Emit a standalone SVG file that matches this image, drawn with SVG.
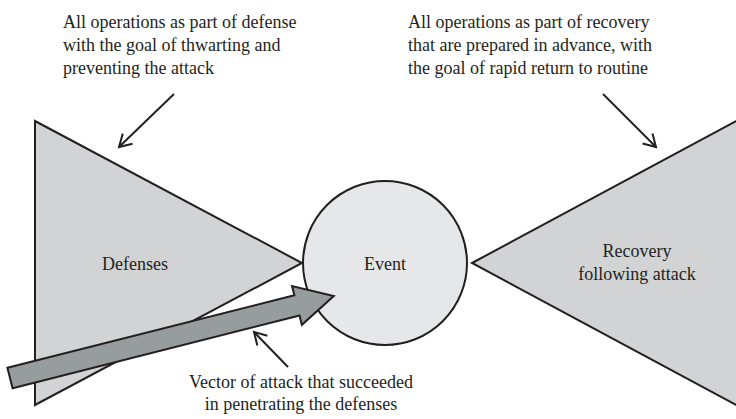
<svg xmlns="http://www.w3.org/2000/svg" width="736" height="419" viewBox="0 0 736 419">
  <style>
    text { font-family: 'Liberation Serif', 'DejaVu Serif', serif; font-size: 18px; fill: #231f20; }
    .shape { stroke: #231f20; stroke-width: 2; stroke-linejoin: miter; }
    .tri { fill: #d1d3d4; }
    .ptr { fill: none; stroke: #231f20; stroke-width: 2; }
    .mid { text-anchor: middle; }
  </style>
  <defs>
    <marker id="open" markerWidth="16" markerHeight="16" refX="13" refY="8" orient="auto" markerUnits="userSpaceOnUse">
      <path d="M1,1 L13,8 L1,15" fill="none" stroke="#231f20" stroke-width="2"/>
    </marker>
  </defs>

  <rect width="736" height="419" fill="#ffffff"/>

  <g id="defenses">
    <polygon class="shape tri" points="35,121 302,263 35,405"/>
    <text class="mid" x="135" y="270">Defenses</text>
  </g>

  <g id="recovery">
    <polygon class="shape tri" points="472,263 742,118 742,408"/>
    <text class="mid" x="637" y="257">Recovery</text>
    <text class="mid" x="637" y="280">following attack</text>
  </g>

  <g id="event">
    <circle class="shape" cx="385" cy="263" r="82" fill="#e6e7e8"/>
    <text class="mid" x="385" y="270">Event</text>
  </g>

  <g id="attack-vector">
    <g transform="translate(10,378) rotate(-14.2)">
      <polygon class="shape" fill="#979c9e" stroke-width="1.5" points="0,-10.5 296,-10.5 296,-20 334,0 296,20 296,10.5 0,10.5"/>
    </g>
  </g>

  <g id="connectors">
    <line class="ptr" x1="174" y1="94" x2="119" y2="147" marker-end="url(#open)"/>
    <line class="ptr" x1="603" y1="94" x2="656" y2="147" marker-end="url(#open)"/>
    <line class="ptr" x1="288" y1="367" x2="254" y2="332" marker-end="url(#open)"/>
  </g>

  <g id="notes">
    <text x="63" y="28">All operations as part of defense</text>
    <text x="63" y="51">with the goal of thwarting and</text>
    <text x="63" y="74">preventing the attack</text>
    <text x="408" y="28">All operations as part of recovery</text>
    <text x="408" y="51">that are prepared in advance, with</text>
    <text x="408" y="74">the goal of rapid return to routine</text>
    <text class="mid" x="301" y="388">Vector of attack that succeeded</text>
    <text class="mid" x="301" y="410">in penetrating the defenses</text>
  </g>
</svg>
